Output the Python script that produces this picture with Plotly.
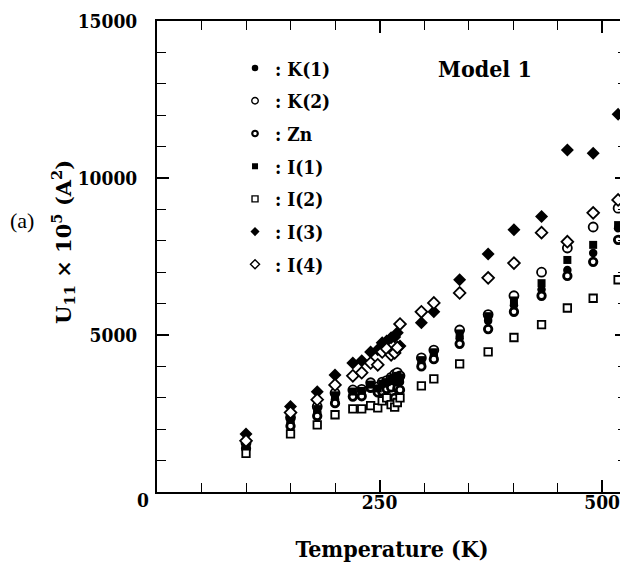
import plotly.graph_objects as go

# Temperatures (K)
temps = [100, 150, 180, 200, 220, 230, 240, 248, 253, 258, 263, 267, 270, 273,
         297, 311, 340, 372, 401, 432, 461, 490, 518]

# U11 x 10^5 (A^2) per site
k1 = [1430, 2200, 2550, 2950, 3120, 3130, 3380, 3230, 3350, 3400, 3500, 3550, 3600, 3500,
      4080, 4330, 4900, 5450, 5950, 6450, 7070, 7610, 8400]
k2 = [1550, 2370, 2720, 3150, 3250, 3270, 3480, 3350, 3500, 3550, 3650, 3750, 3800, 3700,
      4270, 4520, 5160, 5650, 6250, 7000, 7770, 8440, 9040]
zn = [1390, 2100, 2420, 2830, 3040, 3050, 3320, 3170, 3200, 3280, 3330, 3000, 3300, 3250,
      4000, 4230, 4720, 5190, 5740, 6250, 6880, 7330, 8030]
i1 = [1480, 2300, 2640, 3080, 3200, 3220, 3420, 3300, 3450, 3500, 3600, 3650, 3700, 3650,
      4200, 4450, 5050, 5600, 6100, 6650, 7390, 7870, 8500]
i2 = [1230, 1850, 2140, 2460, 2650, 2650, 2750, 2680, 2900, 3000, 2780, 2700, 2850, 3000,
      3380, 3600, 4080, 4460, 4920, 5330, 5860, 6170, 6760]
i3 = [1850, 2720, 3190, 3730, 4110, 4180, 4460, 4530, 4750, 4810, 4910, 4940, 5070, 4650,
      5390, 5740, 6760, 7580, 8350, 8770, 10890, 10790, 12030]
i4 = [1630, 2530, 2940, 3410, 3700, 3800, 4110, 4050, 4460, 4560, 4370, 4430, 4600, 5350,
      5740, 6020, 6340, 6820, 7290, 8260, 7970, 8890, 9300]

names = [": K(1)", ": K(2)", ": Zn", ": I(1)", ": I(2)", ": I(3)", ": I(4)"]
series = [k1, k2, zn, i1, i2, i3, i4]

FONT = "DejaVu Serif Condensed, DejaVu Serif"
WIDE = "DejaVu Serif"
BLACK = "black"

styles = [
    dict(symbol="circle", size=8.5, color=BLACK, line=dict(width=0)),
    dict(symbol="circle", size=9, color="white", line=dict(color=BLACK, width=1.8)),
    dict(symbol="circle", size=7.5, color="white", line=dict(color=BLACK, width=2.8)),
    dict(symbol="square", size=8, color=BLACK, line=dict(width=0)),
    dict(symbol="square", size=7.5, color="white", line=dict(color=BLACK, width=1.8)),
    dict(symbol="diamond", size=10, color=BLACK, line=dict(width=0)),
    dict(symbol="diamond", size=9, color="white", line=dict(color=BLACK, width=1.8)),
]
legend_styles = [
    dict(symbol="circle", size=6.5, color=BLACK, line=dict(width=0)),
    dict(symbol="circle", size=6.5, color="white", line=dict(color=BLACK, width=1.4)),
    dict(symbol="circle", size=5.5, color="white", line=dict(color=BLACK, width=2.2)),
    dict(symbol="square", size=6, color=BLACK, line=dict(width=0)),
    dict(symbol="square", size=6, color="white", line=dict(color=BLACK, width=1.4)),
    dict(symbol="diamond", size=7, color=BLACK, line=dict(width=0)),
    dict(symbol="diamond", size=7, color="white", line=dict(color=BLACK, width=1.4)),
]

fig = go.Figure()
for name, ys, st in zip(names, series, styles):
    fig.add_trace(go.Scatter(x=temps, y=ys, mode="markers", marker=st,
                             showlegend=False, name=name))
for k, (name, st) in enumerate(zip(names, legend_styles)):
    fig.add_trace(go.Scatter(x=[None], y=[None], mode="markers", marker=st,
                             name="<b>" + name + "</b>", legendgroup=f"g{k}",
                             showlegend=True))

axis_common = dict(
    showline=True, linecolor=BLACK, linewidth=2, mirror="ticks",
    ticks="inside", ticklen=12, tickwidth=1.5, tickcolor=BLACK,
    showgrid=False, zeroline=False, automargin=False,
    tickfont=dict(family=FONT, size=19, color=BLACK, weight="bold"),
)

fig.update_layout(
    width=628, height=569,
    margin=dict(l=149, r=9, t=13, b=85),
    paper_bgcolor="white", plot_bgcolor="white",
    xaxis=dict(range=[0, 528], tickvals=[250, 500], ticktext=["250", "500"],
               ticklabelstandoff=-8,
               minor=dict(dtick=50, tick0=0, ticks="inside", ticklen=9,
                          tickwidth=1.3, tickcolor=BLACK, showgrid=False),
               title=dict(text="<b>Temperature (K)</b>",
                          font=dict(family=FONT, size=23, color=BLACK),
                          standoff=29),
               **axis_common),
    yaxis=dict(range=[0, 15000], tickvals=[5000, 10000, 15000],
               ticktext=["5000", "10000", "15000"], ticklabelstandoff=14,
               minor=dict(dtick=1000, tick0=0, ticks="inside", ticklen=9,
                          tickwidth=1.3, tickcolor=BLACK, showgrid=False),
               **axis_common),
    legend=dict(x=0.166, y=0.94, xanchor="left", yanchor="top",
                font=dict(family=FONT, size=19, color=BLACK),
                bgcolor="rgba(0,0,0,0)", borderwidth=0, tracegroupgap=5),
    showlegend=True,
)

fig.add_annotation(text="<b>Model 1</b>", x=0.698, y=0.9, xref="paper", yref="paper",
                   xanchor="center", yanchor="middle",
                   showarrow=False, font=dict(family=FONT, size=23, color=BLACK))
fig.add_annotation(text="<b>U<sub>11</sub> × 10<sup>5</sup> (A<sup>2</sup>)</b>",
                   x=-0.2, y=0.531, xref="paper", yref="paper", textangle=-90,
                   xanchor="center", yanchor="middle",
                   showarrow=False, font=dict(family=WIDE, size=21, color=BLACK))
fig.add_annotation(text="(a)", x=-0.287, y=0.577, xref="paper", yref="paper",
                   xanchor="center", yanchor="middle",
                   showarrow=False, font=dict(family="Liberation Serif", size=22, color=BLACK))
fig.add_annotation(text="<b>0</b>", x=-0.03, y=-0.016, xref="paper", yref="paper",
                   xanchor="center", yanchor="middle",
                   showarrow=False, font=dict(family=FONT, size=19, color=BLACK))

fig.write_html("out.html")
